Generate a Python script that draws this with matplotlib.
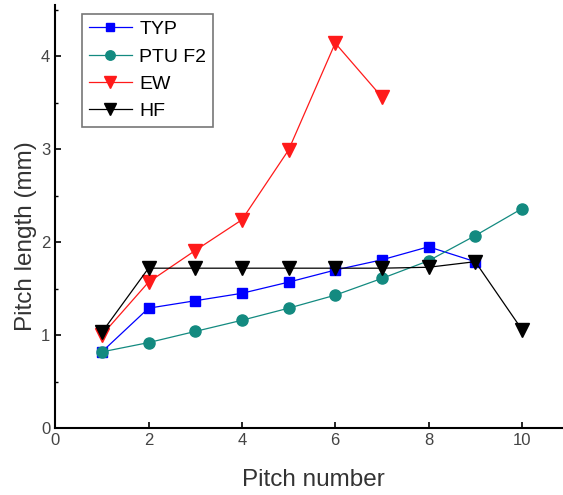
import matplotlib
matplotlib.use("Agg")
import matplotlib.pyplot as plt
from matplotlib.ticker import MultipleLocator

plt.rcParams['font.family'] = ['Liberation Sans', 'DejaVu Sans']

# data
typ_x = [1, 2, 3, 4, 5, 6, 7, 8, 9]
typ_y = [0.82, 1.29, 1.37, 1.45, 1.57, 1.70, 1.81, 1.95, 1.79]

ptu_x = [1, 2, 3, 4, 5, 6, 7, 8, 9, 10]
ptu_y = [0.82, 0.92, 1.04, 1.16, 1.29, 1.43, 1.61, 1.80, 2.07, 2.36]

ew_x = [1, 2, 3, 4, 5, 6, 7]
ew_y = [1.00, 1.57, 1.91, 2.24, 2.99, 4.14, 3.56]

hf_x = [1, 2, 3, 4, 5, 6, 7, 8, 9, 10]
hf_y = [1.03, 1.72, 1.72, 1.72, 1.72, 1.72, 1.72, 1.73, 1.79, 1.06]

xticks = [0, 2, 4, 6, 8, 10]
yticks = [0, 1, 2, 3, 4]

fig = plt.figure(figsize=(5.63, 4.95), dpi=100)
ax = fig.add_axes([0.098, 0.135, 0.902, 0.855])

ax.plot(typ_x, typ_y, color='#0000ff', lw=0.9, marker='s', ms=7, label='TYP')
ax.plot(ptu_x, ptu_y, color='#138a80', lw=0.9, marker='o', ms=8, label='PTU F2')
ax.plot(ew_x, ew_y, color='#ff1a1a', lw=0.9, marker='v', ms=10, label='EW')
ax.plot(hf_x, hf_y, color='black', lw=0.9, marker='v', ms=10, label='HF')

ax.set_xlim(0, 10.88)
ax.set_ylim(0, 4.55)
ax.set_xticks(xticks)
ax.set_yticks(yticks)
ax.yaxis.set_minor_locator(MultipleLocator(0.5))
ax.spines['top'].set_visible(False)
ax.spines['right'].set_visible(False)
ax.spines['left'].set_linewidth(1.5)
ax.spines['bottom'].set_linewidth(1.5)
ax.tick_params(direction='in', length=4, width=1.2, labelsize=12, labelcolor='#444444')
ax.tick_params(which='minor', direction='in', length=2.5, width=1.0)

ax.set_xlabel('Pitch number', fontsize=17.5, color='#333333')
ax.set_ylabel('Pitch length (mm)', fontsize=17.5, color='#333333')
ax.xaxis.set_label_coords(0.508, -0.097)
ax.yaxis.set_label_coords(-0.036, 0.454)

leg = ax.legend(loc='upper left', bbox_to_anchor=(0.053, 0.979), borderaxespad=0,
                fontsize=14, frameon=True, fancybox=False, edgecolor='#555555',
                handlelength=2.2, handletextpad=0.4, labelspacing=0.5,
                borderpad=0.35, markerscale=0.85)
leg.get_frame().set_linewidth(1.2)

plt.savefig('out.png', dpi=100)
